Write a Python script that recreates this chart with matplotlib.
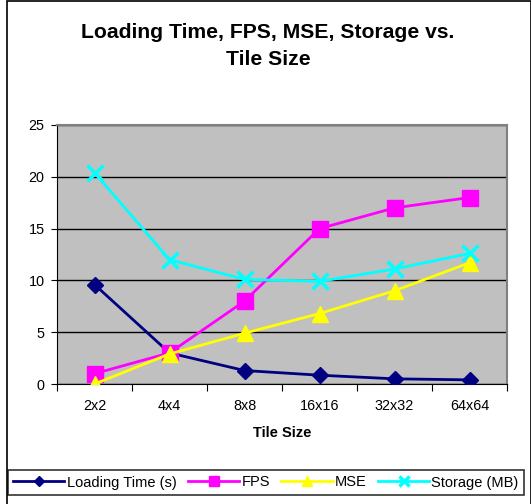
import numpy as np
import matplotlib.pyplot as plt
from matplotlib.patches import Rectangle

plt.rcParams['font.family'] = ['Liberation Sans', 'DejaVu Sans']

tile_sizes = ['2x2', '4x4', '8x8', '16x16', '32x32', '64x64']
loading_time = [9.6, 3.0, 1.3, 0.85, 0.5, 0.4]
fps = [1, 3, 8, 15, 17, 18]
mse = [0, 2.9, 4.9, 6.8, 9, 11.7]
storage = [20.4, 12, 10.1, 9.9, 11.1, 12.6]

W, H = 531, 504
fig = plt.figure(figsize=(W / 100, H / 100), dpi=100)
ax = fig.add_axes([57 / W, 1 - 384 / H, (507 - 57) / W, (384 - 125) / H])
ax.set_facecolor('#C0C0C0')

x = np.arange(len(tile_sizes)) + 0.5
ax.plot(x, loading_time, color='#000080', lw=2, marker='D', ms=8, label='Loading Time (s)', zorder=3)
ax.plot(x, fps, color='#FF00FF', lw=2, marker='s', ms=11, label='FPS', zorder=3)
ax.plot(x, mse, color='#FFFF00', lw=2, marker='^', ms=12, label='MSE', zorder=3)
ax.plot(x, storage, color='#00FFFF', lw=2, marker='x', ms=11, mew=2.5, label='Storage (MB)', zorder=3)

ax.set_xlim(0, len(tile_sizes))
ax.set_ylim(0, 25)
ax.set_yticks(range(0, 26, 5))
ax.set_xticks(range(len(tile_sizes) + 1))
ax.set_xticklabels([])
ax.set_xticks(x, minor=True)
ax.set_xticklabels(tile_sizes, minor=True)
ax.tick_params(axis='x', which='minor', length=0, labelsize=10.4, pad=11)
ax.tick_params(axis='x', which='major', length=5, direction='out', color='black')
ax.tick_params(axis='y', length=4, direction='out', labelsize=10.4, pad=5)
ax.yaxis.grid(True, color='black', lw=1)
ax.set_axisbelow(True)
for s in ['top', 'right']:
    ax.spines[s].set_color('#808080')
    ax.spines[s].set_linewidth(1.5)
for s in ['left', 'bottom']:
    ax.spines[s].set_color('black')
ax.set_xlabel('Tile Size', fontsize=10.5, fontweight='bold', labelpad=9)

fig.text(268 / W, 1 - 46 / H, 'Loading Time, FPS, MSE, Storage vs.\nTile Size',
         ha='center', va='center', fontsize=15.2, fontweight='bold', linespacing=1.55)

# outer chart border
fig.patches.append(Rectangle((7 / W, -0.01), 1 - 7 / W, 1.01 - 1 / H, transform=fig.transFigure,
                             fill=False, edgecolor='black', lw=1.2))

leg = fig.legend(loc='center', bbox_to_anchor=(266 / W, 1 - 482.5 / H), ncol=4, fontsize=10.5,
                 frameon=True, fancybox=False, edgecolor='black', handlelength=3.5,
                 columnspacing=0.8, handletextpad=0.15, borderpad=0.4, borderaxespad=0,
                 markerscale=0.6)
leg.get_frame().set_linewidth(1.2)

fig.savefig('out.png', dpi=100)
